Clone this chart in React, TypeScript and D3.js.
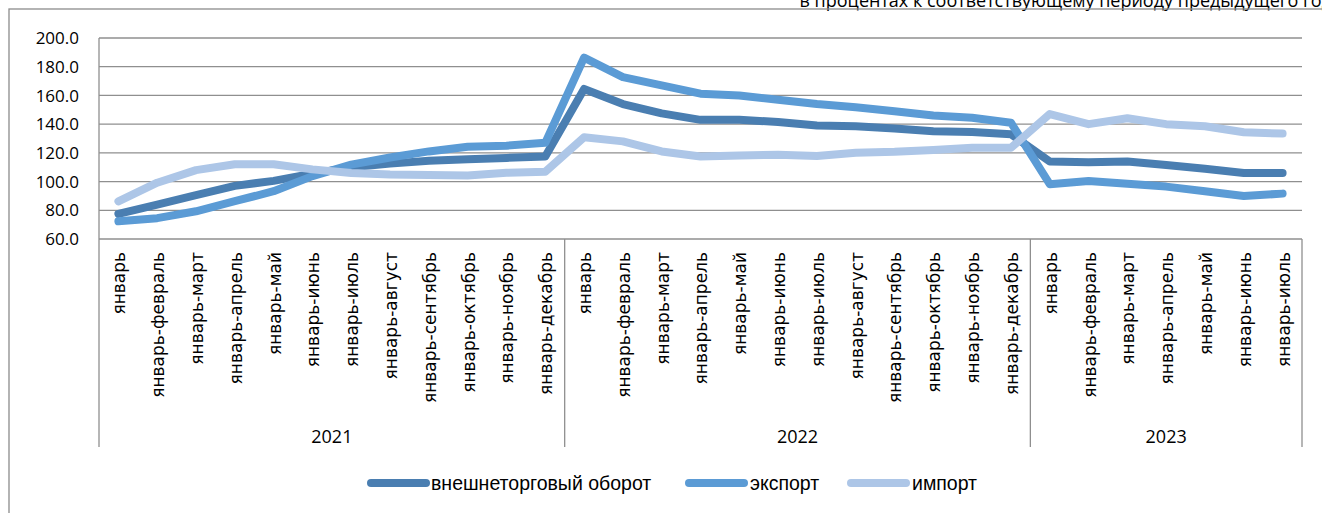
import React from 'react';
import * as d3 from 'd3';

const periods = ['январь', 'январь-февраль', 'январь-март', 'январь-апрель', 'январь-май', 'январь-июнь', 'январь-июль', 'январь-август', 'январь-сентябрь', 'январь-октябрь', 'январь-ноябрь', 'январь-декабрь'];
const years = ['2021', '2022', '2023'];
const periodsPerYear = [12, 12, 7];

const turnover = [77.5, 84, 90.5, 97, 100.5, 105.5, 110, 112.5, 114.5, 115.5, 116.5, 117.5, 164.5, 154, 147.5, 143, 143, 141.5, 139, 138.5, 137, 135, 134.5, 133, 114, 113.5, 114, 111.5, 109, 106, 106];
const exportS = [72.3, 74.5, 79.3, 86.3, 93.3, 103.8, 111.8, 116.8, 121, 124.2, 125, 127, 186.3, 172.8, 167, 161.2, 160, 157, 154, 151.7, 149, 146, 144.5, 141, 98.2, 100.4, 98.5, 96.5, 93.2, 90, 91.6];
const importS = [86.2, 99.2, 108, 112.1, 112.1, 108.5, 106, 105, 104.6, 104.3, 106.1, 106.8, 130.8, 128, 121, 117.5, 118.2, 118.7, 117.8, 120, 120.7, 122, 123.5, 123.5, 147, 140, 144.1, 140, 138.5, 134.4, 133.4];

const seriesNames = ['внешнеторговый оборот', 'экспорт', 'импорт'];
const yTicks = [60, 80, 100, 120, 140, 160, 180, 200];
const subtitle = 'в процентах к соответствующему периоду предыдущего года';

const colors = ['#4A7EB1', '#5B9BD5', '#ADC6E7'];

export default function App() {
  const W = 1322, H = 513;
  const left = 99, right = 1302, top = 38, bottom = 239, axisBottom = 447;

  const cats: { year: string; label: string; key: string }[] = [];
  years.forEach((y, yi) => {
    for (let i = 0; i < periodsPerYear[yi]; i++) cats.push({ year: y, label: periods[i], key: y + '-' + i });
  });

  const x = d3.scaleBand<string>().domain(cats.map(c => c.key)).range([left, right]).padding(0);
  const bw = x.bandwidth();
  const xc = (i: number) => (x(cats[i].key) as number) + bw / 2;
  const y = d3.scaleLinear().domain([60, 200]).range([bottom, top]);

  const line = d3.line<number>().x((_, i) => xc(i)).y(d => y(d));
  const allSeries = [turnover, exportS, importS];

  const bounds: number[] = [left];
  let acc = 0;
  periodsPerYear.forEach(n => { acc += n; bounds.push((x(cats[acc - 1].key) as number) + bw); });

  const legendItems = [
    { x1: 371, tx: 431 },
    { x1: 689, tx: 750 },
    { x1: 851, tx: 912 },
  ];

  return (
    <svg width={W} height={H} style={{ position: 'absolute', left: 0, top: 0, background: '#fff' }}>
      <rect x={0} y={0} width={W} height={H} fill="#fff" />
      <text x={1342} y={6.5} textAnchor="end" fontFamily="'Open Sans', sans-serif" fontSize={18} fill="#000">{subtitle}</text>
      <rect x={9} y={9} width={W + 20} height={H + 20} fill="none" stroke="#8c8c8c" strokeWidth={1.3} />

      {yTicks.map(t => (
        <g key={t}>
          <line x1={left} x2={right} y1={y(t)} y2={y(t)} stroke="#8f8f8f" strokeWidth={1.3} />
          <text x={79} y={y(t)} dy="0.36em" textAnchor="end" fontFamily="'Open Sans', sans-serif" fontSize={17} fill="#000">{t.toFixed(1)}</text>
        </g>
      ))}

      <line x1={left} x2={left} y1={top} y2={axisBottom} stroke="#8f8f8f" strokeWidth={1.3} />
      {bounds.slice(1).map((b, i) => (
        <line key={i} x1={b} x2={b} y1={bottom} y2={axisBottom} stroke="#8f8f8f" strokeWidth={1.3} />
      ))}

      {cats.map((c, i) => (
        <text key={c.key} transform={`translate(${xc(i) + 1},252) rotate(-90)`} textAnchor="end" dy="0.35em"
          fontFamily="'DejaVu Sans', sans-serif" fontSize={17} fill="#000">{c.label}</text>
      ))}

      {years.map((yr, i) => (
        <text key={yr} x={(bounds[i] + bounds[i + 1]) / 2} y={443} textAnchor="middle"
          fontFamily="'Open Sans', sans-serif" fontSize={18} fill="#000">{yr}</text>
      ))}

      {allSeries.map((s, si) => (
        <path key={si} d={line(s) as string} fill="none" stroke={colors[si]} strokeWidth={8}
          strokeLinecap="round" strokeLinejoin="round" />
      ))}

      {seriesNames.map((n, i) => (
        <g key={n}>
          <line x1={legendItems[i].x1} x2={legendItems[i].x1 + 55} y1={483} y2={483} stroke={colors[i]} strokeWidth={8} strokeLinecap="round" />
          <text x={legendItems[i].tx} y={483} dy="0.36em" fontFamily="'Liberation Sans', Arial, sans-serif" fontSize={19.5} fill="#000">{n}</text>
        </g>
      ))}
    </svg>
  );
}
